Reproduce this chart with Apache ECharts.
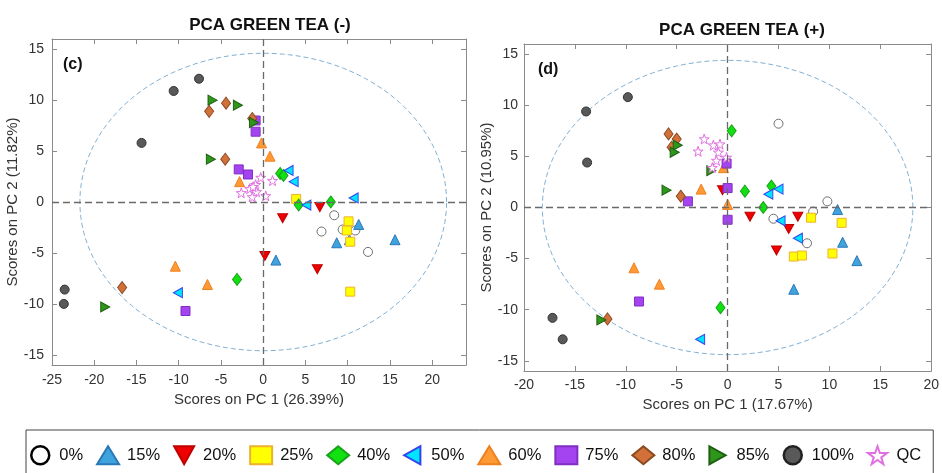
<!DOCTYPE html>
<html>
<head>
<meta charset="utf-8">
<script src="https://cdn.jsdelivr.net/npm/echarts@6/dist/echarts.min.js"></script>
<style>
  html, body { margin: 0; padding: 0; background: #fff; }
  #chart { width: 942px; height: 473px; }
</style>
</head>
<body>
<div id="chart"></div>
<script>
// legend groups
const groupNames = ['0%', '15%', '20%', '25%', '40%', '50%', '60%', '75%', '80%', '85%', '100%', 'QC']

// panel (c): PCA GREEN TEA (-), points are [PC1, PC2]
const c0 = [[8.4, -1.3], [6.9, -2.9], [9.4, -2.7], [10.9, -2.8], [12.4, -4.9]]
const c15 = [[11.3, -2.2], [10.2, -3.7], [8.7, -4.0], [15.6, -3.7], [1.5, -5.7]]
const c20 = [[6.7, -0.5], [2.3, -1.6], [0.2, -5.3], [6.4, -6.6]]
const c25 = [[3.9, 0.3], [10.1, -1.9], [9.9, -2.8], [10.3, -3.9], [10.3, -8.8]]
const c40 = [[2.0, 2.8], [2.4, 2.6], [4.2, -0.3], [8.0, 0.0], [-3.1, -7.6]]
const c50 = [[3.0, 3.1], [3.6, 2.0], [5.1, -0.3], [10.7, 0.4], [-10.1, -8.9]]
const c60 = [[-0.2, 5.8], [0.8, 4.5], [-2.8, 2.0], [-10.4, -6.3], [-6.6, -8.1]]
const c75 = [[-0.9, 8.0], [-0.9, 6.9], [-2.9, 3.2], [-1.8, 2.7], [-9.2, -10.7]]
const c80 = [[-4.4, 9.7], [-6.4, 8.9], [-1.3, 8.2], [-4.5, 4.2], [-16.7, -8.4]]
const c85 = [[-6.0, 10.0], [-3.0, 9.5], [-1.1, 7.8], [-6.2, 4.2], [-18.7, -10.3]]
const c100 = [[-7.6, 12.1], [-10.6, 10.9], [-14.4, 5.8], [-23.5, -8.6], [-23.6, -10.0]]
const cQC = [[-0.3, 2.4], [1.1, 2.1], [-0.9, 1.7], [-1.6, 1.3], [-0.8, 1.0], [-2.6, 0.9], [-1.3, 0.5], [0.3, 0.6], [-1.2, 1.5]]

// panel (d): PCA GREEN TEA (+)
const d0 = [[5.0, 8.2], [9.8, 0.6], [8.4, -0.4], [4.5, -1.1], [7.8, -3.5]]
const d15 = [[10.8, -0.2], [11.3, -3.4], [12.7, -5.2], [6.5, -8.0]]
const d20 = [[-0.5, 1.7], [2.2, -0.9], [6.9, -0.9], [6.0, -2.1], [4.8, -4.2]]
const d25 = [[8.2, -1.0], [11.2, -1.5], [10.3, -4.5], [6.5, -4.8], [7.3, -4.7]]
const d40 = [[0.4, 7.5], [1.7, 1.6], [3.5, 0.0], [4.3, 2.1], [-0.7, -9.8]]
const d50 = [[4.0, 1.3], [5.0, 1.8], [5.2, -1.3], [6.9, -3.0], [-2.7, -12.9]]
const d60 = [[-0.4, 3.9], [-2.6, 1.8], [0.0, 0.3], [-9.2, -5.9], [-6.7, -7.5]]
const d75 = [[-0.1, 4.3], [0.0, 1.9], [-3.9, 0.6], [0.0, -1.2], [-8.7, -9.2]]
const d80 = [[-5.8, 7.2], [-5.0, 6.7], [-5.5, 5.9], [-4.6, 1.1], [-11.8, -10.9]]
const d85 = [[-4.9, 6.1], [-5.2, 5.4], [-1.6, 3.6], [-6.0, 1.7], [-12.4, -11.0]]
const d100 = [[-9.8, 10.8], [-13.9, 9.4], [-13.8, 4.4], [-17.2, -10.8], [-16.2, -12.9]]
const dQC = [[-2.3, 6.7], [-1.4, 6.1], [-0.75, 6.2], [-2.9, 5.5], [-0.9, 5.4], [-1.1, 4.6], [-0.1, 4.9], [-1.5, 3.9]]

const panelC = [c0, c15, c20, c25, c40, c50, c60, c75, c80, c85, c100, cQC]
const panelD = [d0, d15, d20, d25, d40, d50, d60, d75, d80, d85, d100, dQC]

// tick labels
const xTicksC = [-25, -20, -15, -10, -5, 0, 5, 10, 15, 20]
const xTicksD = [-20, -15, -10, -5, 0, 5, 10, 15, 20]
const yTicks = [-15, -10, -5, 0, 5, 10, 15]

// confidence ellipse half axes [PC1, PC2]
const ellipseC = [21.7, 14.6]
const ellipseD = [18.2, 14.4]

// 标记样式（方向三角形用 path，图例里也能保持方向）
const STAR = 'path://M50,2 L61.8,36.2 L97.6,36.2 L68.8,57.6 L79.4,92 L50,71 L20.6,92 L31.2,57.6 L2.4,36.2 L38.2,36.2 Z'
const TRI_DOWN = 'path://M0,0 L10,0 L5,9 Z'
const TRI_LEFT = 'path://M9,0 L9,10 L0,5 Z'
const TRI_RIGHT = 'path://M0,0 L9,5 L0,10 Z'
const markers = [
  { symbol: 'circle', size: 9, color: '#ffffff', border: '#707070' },
  { symbol: 'triangle', size: 10, color: '#3fa3dd', border: '#2a78b8' },
  { symbol: TRI_DOWN, size: [10, 9], color: '#ee0000', border: '#c00000' },
  { symbol: 'rect', size: 9, color: '#ffff00', border: '#eeb030' },
  { symbol: 'diamond', size: [9, 12], color: '#11e011', border: '#1aa01a' },
  { symbol: TRI_LEFT, size: [9, 10], color: '#00e5ff', border: '#3344ee' },
  { symbol: 'triangle', size: 10, color: '#ff9933', border: '#ee8020' },
  { symbol: 'rect', size: 9, color: '#a443f0', border: '#8030c0' },
  { symbol: 'diamond', size: [9, 12], color: '#d2703a', border: '#8b4a20' },
  { symbol: TRI_RIGHT, size: [9, 10], color: '#2f961c', border: '#1d5e10' },
  { symbol: 'circle', size: 9, color: '#595959', border: '#333333' },
  { symbol: STAR, size: 10, color: '#ffffff', border: '#e070e0' }
]

const FONT = 'Liberation Sans, Arial, sans-serif'
const AXIS_COLOR = '#8a8a8a'

const ellipsePoints = (r) => {
  const pts = []
  for (let i = 0; i <= 180; i++) {
    const t = (i / 180) * Math.PI * 2
    pts.push([r[0] * Math.cos(t), r[1] * Math.sin(t)])
  }
  return pts
}

// one axis of a framed panel; mirror axes only carry inward ticks
const makeAxis = (grid, position, min, max, ticks, opts = {}) => ({
  type: 'value',
  gridIndex: grid,
  position,
  min,
  max,
  splitLine: { show: false },
  axisLine: { show: true, onZero: false, lineStyle: { color: AXIS_COLOR, width: 1 } },
  axisTick: { show: true, inside: true, length: 5, customValues: ticks, lineStyle: { color: AXIS_COLOR } },
  axisLabel: {
    show: !opts.mirror,
    customValues: ticks,
    margin: opts.margin || 8,
    color: '#333',
    fontSize: 14,
    fontFamily: FONT
  },
  name: opts.name || '',
  nameLocation: 'middle',
  nameGap: opts.nameGap || 26,
  nameTextStyle: { color: '#333', fontSize: 15, fontFamily: FONT }
})

const series = []
;[panelC, panelD].forEach((panel, p) => {
  panel.forEach((pts, g) => {
    const m = markers[g]
    series.push({
      type: 'scatter',
      name: groupNames[g],
      xAxisIndex: p * 2,
      yAxisIndex: p * 2,
      data: pts,
      symbol: m.symbol,
      symbolSize: m.size,
      itemStyle: { color: m.color, borderColor: m.border, borderWidth: 1, opacity: 1 },
      emphasis: { disabled: true },
      z: 3
    })
  })
  series.push({
    type: 'line',
    name: 'ellipse',
    xAxisIndex: p * 2,
    yAxisIndex: p * 2,
    data: ellipsePoints(p === 0 ? ellipseC : ellipseD),
    showSymbol: false,
    silent: true,
    lineStyle: { color: '#7fb0d4', width: 1, type: [5, 3] },
    z: 1,
    markLine: {
      silent: true,
      symbol: 'none',
      label: { show: false },
      lineStyle: { color: '#6a6a6a', width: 1.3, type: [7, 4] },
      data: [{ xAxis: 0 }, { yAxis: 0 }]
    }
  })
})

const chart = echarts.init(document.getElementById('chart'))

const option = {
  animation: false,
  backgroundColor: '#fff',
  title: [
    {
      text: 'PCA GREEN TEA (-)',
      left: 265,
      textAlign: 'center',
      top: 12,
      textStyle: { fontSize: 17, fontWeight: 'bold', color: '#111', fontFamily: FONT }
    },
    {
      text: 'PCA GREEN TEA (+)',
      left: 737,
      textAlign: 'center',
      top: 17,
      textStyle: { fontSize: 17, fontWeight: 'bold', color: '#111', fontFamily: FONT }
    }
  ],
  grid: [
    { left: 52, right: 476, top: 39, bottom: 108 },
    { left: 524, right: 5, top: 44, bottom: 102 }
  ],
  xAxis: [
    makeAxis(0, 'bottom', -25, 24, xTicksC, { name: 'Scores on PC 1 (26.39%)', nameGap: 26 }),
    makeAxis(0, 'top', -25, 24, xTicksC, { mirror: true }),
    makeAxis(1, 'bottom', -20, 20, xTicksD, { name: 'Scores on PC 1 (17.67%)', nameGap: 25, margin: 7 }),
    makeAxis(1, 'top', -20, 20, xTicksD, { mirror: true })
  ],
  yAxis: [
    makeAxis(0, 'left', -16, 16, yTicks, { name: 'Scores on PC 2 (11.82%)', nameGap: 30 }),
    makeAxis(0, 'right', -16, 16, yTicks, { mirror: true }),
    makeAxis(1, 'left', -16, 16, yTicks, { name: 'Scores on PC 2 (10.95%)', nameGap: 28, margin: 6 }),
    makeAxis(1, 'right', -16, 16, yTicks, { mirror: true })
  ],
  legend: {
    data: groupNames.map((n) => {
      if (n === '0%') return { name: n, itemStyle: { borderColor: '#000', borderWidth: 2.5 } }
      if (n === '100%') return { name: n, itemStyle: { borderColor: '#222', borderWidth: 2.5 } }
      return { name: n }
    }),
    left: 26,
    top: 430,
    orient: 'horizontal',
    padding: [15, 12, 20, 4],
    itemGap: 13,
    itemWidth: 22,
    itemHeight: 18,
    borderColor: '#444',
    borderWidth: 1,
    selectedMode: false,
    textStyle: { fontSize: 16.5, color: '#111', fontFamily: FONT, padding: [0, 0, 0, 3] }
  },
  graphic: [
    { type: 'text', left: 63, top: 57, style: { text: '(c)', font: 'bold 16px ' + FONT, fill: '#111' } },
    { type: 'text', left: 538, top: 62, style: { text: '(d)', font: 'bold 16px ' + FONT, fill: '#111' } }
  ],
  series
}

chart.setOption(option)
</script>
</body>
</html>
